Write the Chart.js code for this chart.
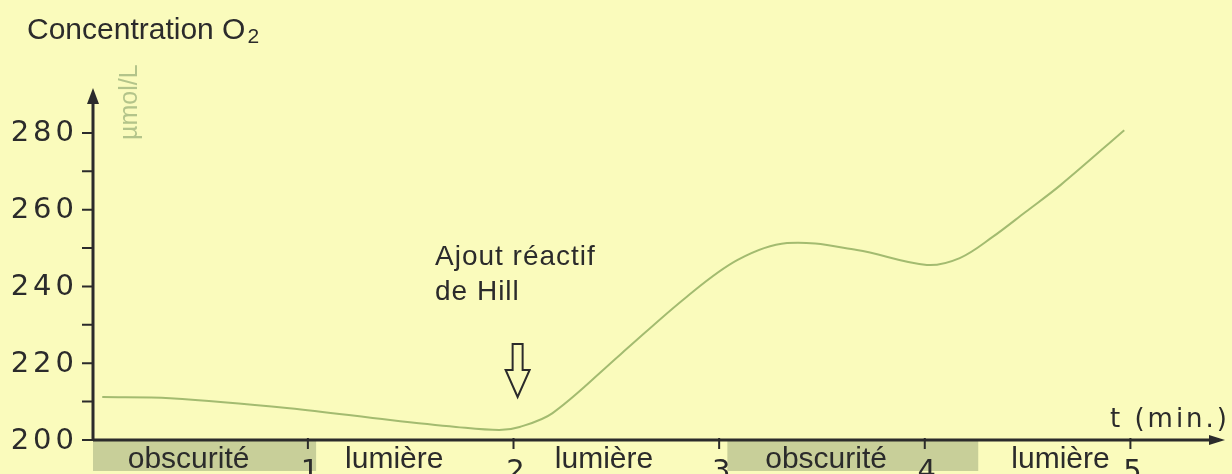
<!DOCTYPE html>
<html>
<head>
<meta charset="utf-8">
<script src="https://cdn.jsdelivr.net/npm/chart.js@4/dist/chart.umd.min.js"></script>
<style>
    html, body { margin: 0; padding: 0; background: #fafbbc; }
    #wrap { width: 1232px; height: 474px; }
</style>
</head>
<body>
<div id="wrap"><canvas id="o2-chart" width="1232" height="474"></canvas></div>
<script>
// Data
const arrTimeMin = [0, 0.33, 0.91, 1.40, 1.72, 1.93, 2.03, 2.19, 2.52, 2.84, 3.09, 3.33, 3.67, 4.01, 4.17, 4.33, 4.49, 4.66, 4.97];
const arrO2 = [211.2, 210.9, 208.3, 205.2, 203.4, 202.6, 203.4, 207.0, 222.3, 237.2, 246.9, 251.3, 249.5, 245.6, 247.4, 252.9, 259.4, 266.4, 280.7];
const arrYTicks = [200, 220, 240, 260, 280];
const arrYMinorTicks = [210, 230, 250, 270];
const arrXTicks = [1, 2, 3, 4, 5];

// Light / dark phases under the time axis
const arrPhases = [
    { from: -0.045, to: 1.04, label: 'obscurité', dark: true, at: 0.42 },
    { from: 1.04, to: 3.04, label: 'lumière', dark: false, at: 1.42 },
    { from: 1.04, to: 3.04, label: 'lumière', dark: false, at: 2.44 },
    { from: 3.04, to: 4.26, label: 'obscurité', dark: true, at: 3.52 },
    { from: 4.26, to: 5.46, label: 'lumière', dark: false, at: 4.66 }
];

const strInk = '#2b2b2b';
const strCurve = 'rgb(163, 187, 112)';
const strBand = '#c8cf99';

/** Draws the arrowed axes, ticks, phase bands and annotations */
const axesPlugin = {
    id: 'axesPlugin',
    beforeDatasetsDraw(chart) {
        const ctx = chart.ctx;
        const x = chart.scales.x;
        const y = chart.scales.y;
        const y0 = y.getPixelForValue(200);
        const x0 = x.getPixelForValue(-0.045);
        ctx.save();

        // Dark phase bands below the axis
        ctx.fillStyle = strBand;
        for (const p of arrPhases) {
            if (!p.dark) continue;
            const a = x.getPixelForValue(p.from);
            const b = x.getPixelForValue(p.to);
            ctx.fillRect(a, y0 + 1, b - a, 30);
        }

        // Phase labels
        ctx.fillStyle = strInk;
        ctx.font = '30px "Liberation Sans", Arial, sans-serif';
        ctx.textAlign = 'center';
        ctx.textBaseline = 'alphabetic';
        for (const p of arrPhases) {
            ctx.fillText(p.label, x.getPixelForValue(p.at), 468);
        }

        // Axes lines
        ctx.strokeStyle = strInk;
        ctx.lineWidth = 3;
        ctx.beginPath();
        ctx.moveTo(x0, y0);
        ctx.lineTo(x.right - 6, y0);
        ctx.moveTo(x0, y0);
        ctx.lineTo(x0, y.top + 6);
        ctx.stroke();

        // Arrow heads
        ctx.fillStyle = strInk;
        ctx.beginPath();
        ctx.moveTo(x.right, y0);
        ctx.lineTo(x.right - 16, y0 - 5);
        ctx.lineTo(x.right - 16, y0 + 5);
        ctx.closePath();
        ctx.fill();
        ctx.beginPath();
        ctx.moveTo(x0, y.top);
        ctx.lineTo(x0 - 6, y.top + 16);
        ctx.lineTo(x0 + 6, y.top + 16);
        ctx.closePath();
        ctx.fill();

        // Y ticks (major + minor) and labels
        ctx.lineWidth = 2;
        ctx.beginPath();
        for (const v of arrYTicks.concat(arrYMinorTicks)) {
            const py = y.getPixelForValue(v);
            ctx.moveTo(x0 - 11, py);
            ctx.lineTo(x0, py);
        }
        ctx.stroke();
        ctx.font = '29px "DejaVu Sans", sans-serif';
        ctx.letterSpacing = '4px';
        ctx.textAlign = 'right';
        ctx.textBaseline = 'middle';
        for (const v of arrYTicks) {
            ctx.fillText(String(v), x0 - 15, y.getPixelForValue(v) + 1);
        }

        // X ticks and labels
        ctx.beginPath();
        for (const v of arrXTicks) {
            const px = x.getPixelForValue(v);
            ctx.moveTo(px, y0 - 2);
            ctx.lineTo(px, y0 + 9);
        }
        ctx.stroke();
        ctx.textAlign = 'center';
        ctx.textBaseline = 'alphabetic';
        ctx.letterSpacing = '0px';
        for (const v of arrXTicks) {
            ctx.fillText(String(v), x.getPixelForValue(v) + 2, 480);
        }

        // Axis titles
        ctx.font = '26px "DejaVu Sans", sans-serif';
        ctx.letterSpacing = '3px';
        ctx.textAlign = 'right';
        ctx.fillText('t (min.)', 1230, 427);
        ctx.letterSpacing = '0px';

        ctx.font = '30px "Liberation Sans", Arial, sans-serif';
        ctx.textAlign = 'left';
        const strTitle = 'Concentration O';
        ctx.fillText(strTitle, 27, 39);
        const nTitleW = ctx.measureText(strTitle).width;
        ctx.font = '21px "Liberation Sans", Arial, sans-serif';
        ctx.fillText('2', 27 + nTitleW + 2, 43);

        // Unit, rotated
        ctx.save();
        ctx.translate(137, 140);
        ctx.rotate(-Math.PI / 2);
        ctx.fillStyle = '#b3c48a';
        ctx.font = '25px "Liberation Sans", Arial, sans-serif';
        ctx.textAlign = 'left';
        ctx.fillText('µmol/L', 0, 0);
        ctx.restore();

        // Annotation
        ctx.fillStyle = strInk;
        ctx.font = '28px "Liberation Sans", Arial, sans-serif';
        ctx.letterSpacing = '1px';
        ctx.textAlign = 'left';
        ctx.fillText('Ajout réactif', 435, 265);
        ctx.fillText('de Hill', 435, 300);
        ctx.letterSpacing = '0px';

        // Hollow down arrow at the reagent addition
        const ax = x.getPixelForValue(2.02);
        ctx.lineWidth = 2;
        ctx.beginPath();
        ctx.moveTo(ax - 5, 344);
        ctx.lineTo(ax + 5, 344);
        ctx.lineTo(ax + 5, 370);
        ctx.lineTo(ax + 12, 370);
        ctx.lineTo(ax, 397);
        ctx.lineTo(ax - 12, 370);
        ctx.lineTo(ax - 5, 370);
        ctx.closePath();
        ctx.stroke();

        ctx.restore();
    }
};

document.addEventListener('DOMContentLoaded', () => {
    const ctx = document.getElementById('o2-chart').getContext('2d');
    new Chart(ctx, {
        type: 'line',
        data: {
            datasets: [{
                data: arrTimeMin.map((t, i) => ({ x: t, y: arrO2[i] })),
                borderColor: strCurve,
                borderWidth: 2,
                pointRadius: 0,
                fill: false,
                tension: 0.35
            }]
        },
        options: {
            responsive: false,
            animation: false,
            layout: { padding: { left: 93, right: 7, top: 88, bottom: 34 } },
            plugins: { legend: { display: false }, tooltip: { enabled: false } },
            scales: {
                x: { type: 'linear', min: -0.045, max: 5.46, display: false },
                y: { type: 'linear', min: 200, max: 291.7, display: false }
            }
        },
        plugins: [axesPlugin]
    });
});
</script>
</body>
</html>
